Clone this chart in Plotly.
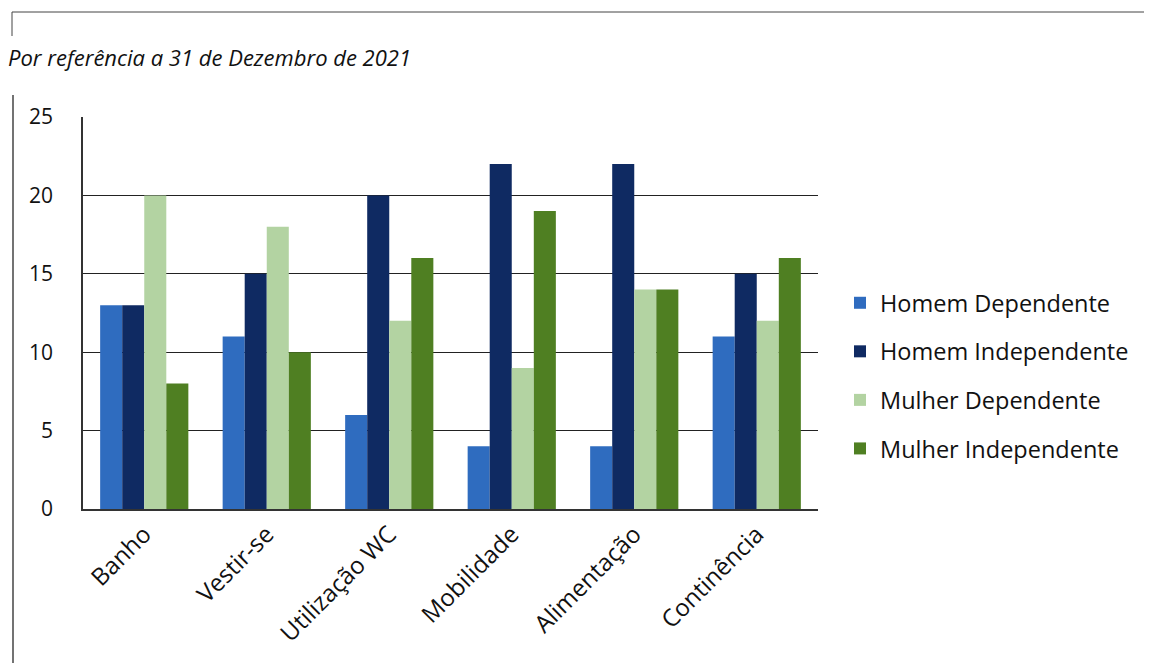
import plotly.graph_objects as go

categories = ["Banho", "Vestir-se", "Utilização WC", "Mobilidade", "Alimentação", "Continência"]
series_names = ["Homem Dependente", "Homem Independente", "Mulher Dependente", "Mulher Independente"]
homem_dependente = [13, 11, 6, 4, 4, 11]
homem_independente = [13, 15, 20, 22, 22, 15]
mulher_dependente = [20, 18, 12, 9, 14, 12]
mulher_independente = [8, 10, 16, 19, 14, 16]
y_ticks = [0, 5, 10, 15, 20, 25]
title_text = "Por referência a 31 de Dezembro de 2021"

colors = ["#2f6cbf", "#0f2a62", "#b3d3a2", "#4f7f22"]
values = [homem_dependente, homem_independente, mulher_dependente, mulher_independente]

FONT = "'Open Sans', Lato, sans-serif"

fig = go.Figure()
for i, (name, vals) in enumerate(zip(series_names, values)):
    fig.add_trace(go.Bar(
        x=categories, y=vals, name=name,
        marker=dict(color=colors[i], line=dict(width=0)),
        legendgroup=str(i),
    ))

OFF = 8  # page body margin
W, H = 1152, 663
L, R, T, B = 83 - OFF, 818 - OFF, 117 - OFF, 509 - OFF
pw, ph = R - L, B - T

def px(x):
    return (x - OFF - L) / pw

def py(y):
    return (B - (y - OFF)) / ph

fig.update_layout(
    width=W, height=H,
    margin=dict(l=L, r=W - R, t=T, b=H - B, autoexpand=False),
    paper_bgcolor="white", plot_bgcolor="white",
    barmode="group", bargap=0.28, bargroupgap=0,
    font=dict(family=FONT, color="#111", size=20),
    showlegend=True,
    legend=dict(
        x=px(840), y=py(376), xanchor="left", yanchor="middle",
        font=dict(size=23.5, color="#111", family=FONT),
        traceorder="grouped", tracegroupgap=15,
        bgcolor="rgba(0,0,0,0)",
    ),
    xaxis=dict(
        tickangle=-45, showline=True, linecolor="#333", linewidth=1.5,
        ticks="", tickfont=dict(size=24, color="#111"),
    ),
    yaxis=dict(
        range=[0, 25], tickvals=y_ticks, showgrid=True, gridcolor="#222", gridwidth=1,
        showline=True, linecolor="#333", linewidth=1.5, zeroline=False,
        ticks="", tickfont=dict(size=21, color="#111"), ticklabelstandoff=24,
    ),
    annotations=[dict(
        text=f"<i>{title_text}</i>", xref="paper", yref="paper",
        x=px(6), y=py(57), xanchor="left", yanchor="middle", showarrow=False,
        font=dict(size=22, color="#111", family=FONT),
    )],
    shapes=[
        dict(type="line", xref="paper", yref="paper", x0=px(12), x1=px(1152), y0=py(12), y1=py(12),
             line=dict(color="#444", width=1)),
        dict(type="line", xref="paper", yref="paper", x0=px(12), x1=px(12), y0=py(12), y1=py(36),
             line=dict(color="#444", width=1)),
        dict(type="line", xref="paper", yref="paper", x0=px(13), x1=px(13), y0=py(95), y1=py(663),
             line=dict(color="#444", width=1.5)),
    ],
)

fig.write_html("out.html")
